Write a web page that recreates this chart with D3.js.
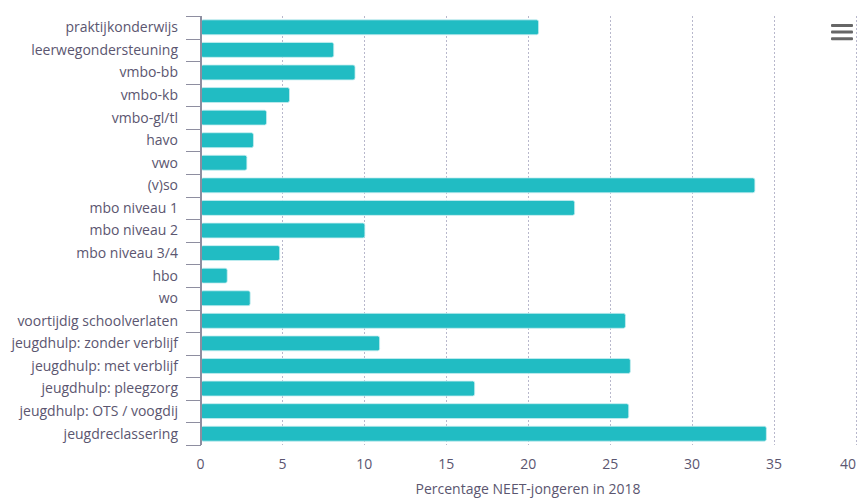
<!DOCTYPE html>
<html><head><meta charset="utf-8">
<script src="https://cdn.jsdelivr.net/npm/d3@7"></script>
<style>body{margin:0;background:#fff;}svg{display:block;font-family:"Open Sans",sans-serif;}</style>
</head><body><svg id="c" width="857" height="498"></svg>
<script>
const categories = ["praktijkonderwijs","leerwegondersteuning","vmbo-bb","vmbo-kb","vmbo-gl/tl","havo","vwo","(v)so","mbo niveau 1","mbo niveau 2","mbo niveau 3/4","hbo","wo","voortijdig schoolverlaten","jeugdhulp: zonder verblijf","jeugdhulp: met verblijf","jeugdhulp: pleegzorg","jeugdhulp: OTS / voogdij","jeugdreclassering"];
const values = [20.6,8.1,9.4,5.4,4.0,3.2,2.8,33.8,22.8,10.0,4.8,1.6,3.0,25.9,10.9,26.2,16.7,26.1,34.5];
const xTicks = [0,5,10,15,20,25,30,35,40];
const xTitle = "Percentage NEET-jongeren in 2018";

const svg = d3.select("#c");
const x = d3.scaleLinear().domain([0,40]).range([200.5,856]);
const y = d3.scaleBand().domain(categories).range([16,445]).paddingInner(0.34).paddingOuter(0.17);
const band = (445-16)/categories.length;

// grid
svg.append("g").selectAll("line").data(xTicks.slice(1)).join("line")
  .attr("x1",d=>Math.round(x(d))+0.5).attr("x2",d=>Math.round(x(d))+0.5)
  .attr("y1",16).attr("y2",445)
  .attr("stroke","#b8b8cc").attr("stroke-width",1).attr("stroke-dasharray","2,2");

// bars
svg.append("g").selectAll("rect").data(values).join("rect")
  .attr("x",x(0)+0.5).attr("y",(d,i)=>y(categories[i]))
  .attr("width",d=>x(d)-x(0)).attr("height",y.bandwidth())
  .attr("rx",2).attr("fill","#21bcc3").attr("stroke","#c8eef0").attr("stroke-width",0.8);

// y axis line and ticks
const axisColor = "#8e8ea0";
svg.append("line").attr("x1",201).attr("x2",201).attr("y1",16).attr("y2",445)
  .attr("stroke",axisColor).attr("stroke-width",2);
const bounds = d3.range(categories.length+1).map(i=>16+i*band);
svg.append("g").selectAll("line").data(bounds).join("line")
  .attr("x1",186).attr("x2",201).attr("y1",d=>Math.round(d)+0.5).attr("y2",d=>Math.round(d)+0.5)
  .attr("stroke",axisColor).attr("stroke-width",1);

// y labels
svg.append("g").selectAll("text").data(categories).join("text")
  .attr("x",178).attr("y",d=>y(d)+y.bandwidth()/2).attr("dy","0.35em")
  .attr("text-anchor","end").attr("font-size",14).attr("fill","#5b5670").text(d=>d);

// x labels
svg.append("g").selectAll("text").data(xTicks).join("text")
  .attr("x",d=>d===40?856:x(d)).attr("y",469)
  .attr("text-anchor",d=>d===40?"end":"middle").attr("font-size",14).attr("fill","#5b5670").text(d=>d);

svg.append("text").attr("x",528).attr("y",494).attr("text-anchor","middle")
  .attr("font-size",14).attr("fill","#5b5670").text(xTitle);

// menu icon
svg.append("g").selectAll("rect").data([0,1,2]).join("rect")
  .attr("x",831).attr("y",d=>24+d*6.6).attr("width",22).attr("height",3).attr("rx",1)
  .attr("fill","#666");
</script></body></html>
